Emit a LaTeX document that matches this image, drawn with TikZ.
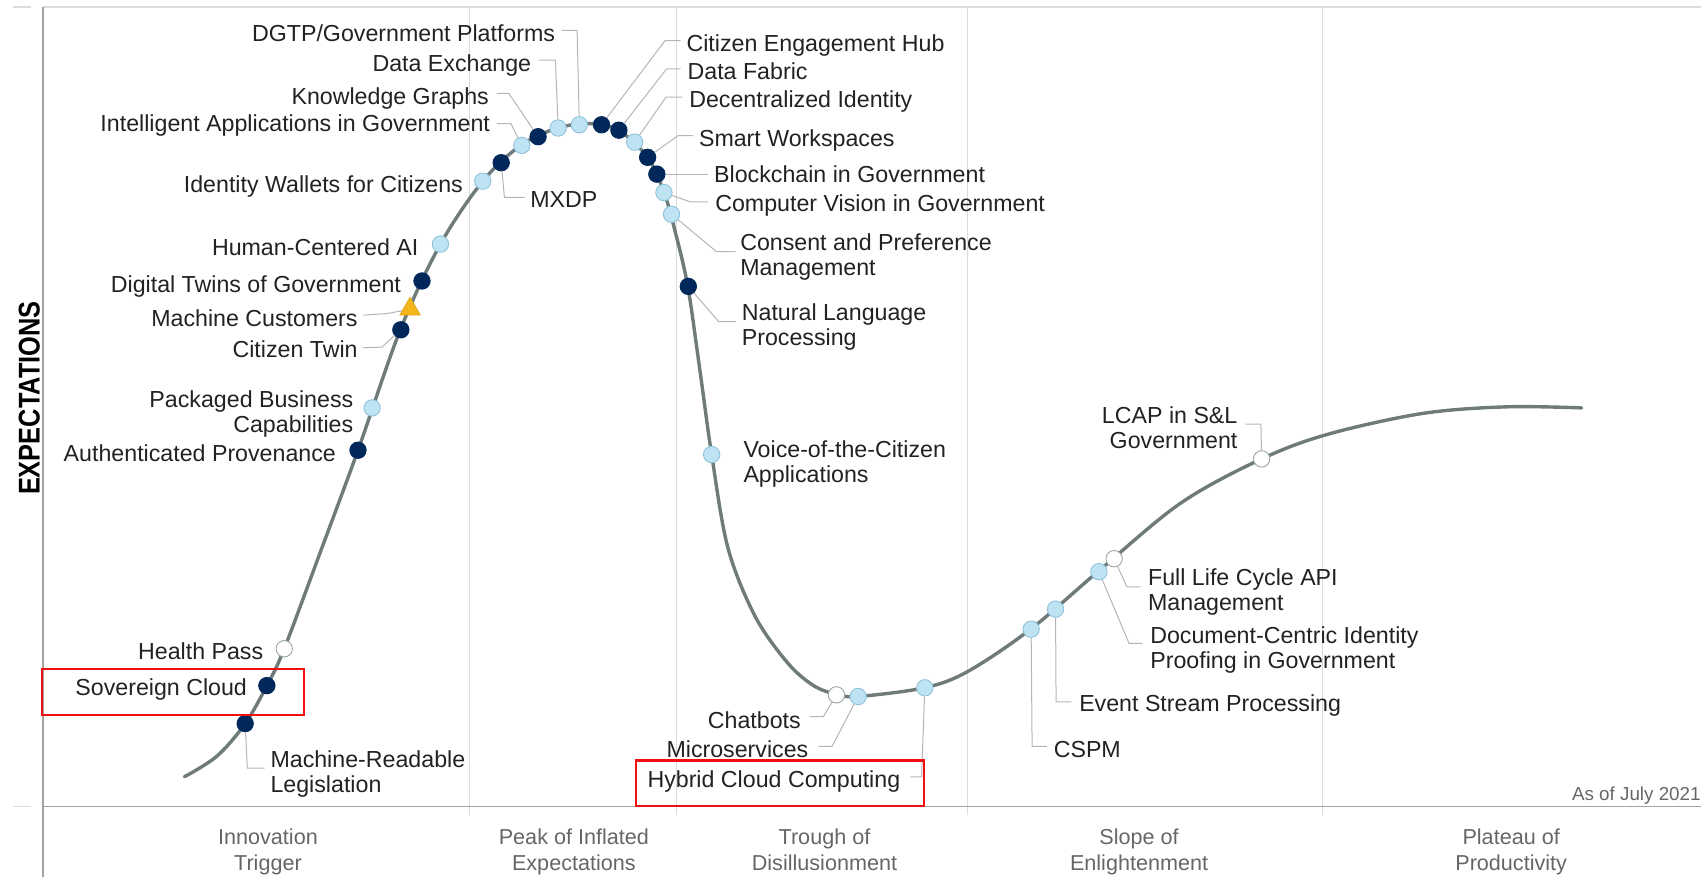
\documentclass[tikz,border=0pt]{standalone}
\usepackage{fontspec}
\setmainfont{Liberation Sans}
\usetikzlibrary{calc,shapes.geometric}
\definecolor{navy}{HTML}{00285A}
\definecolor{lightdot}{HTML}{BEE3F3}
\definecolor{lightedge}{HTML}{8FC3DA}
\definecolor{whiteedge}{HTML}{9AA4A4}
\definecolor{curvec}{HTML}{6E7B7A}
\definecolor{leaderc}{HTML}{B5B5B5}
\definecolor{gridc}{HTML}{DCDCDC}
\definecolor{axisc}{HTML}{A3A3A3}
\definecolor{txt}{HTML}{222222}
\definecolor{phasec}{HTML}{666666}
\definecolor{tri}{HTML}{F4B51A}
\definecolor{redbox}{HTML}{F01010}
\begin{document}
\begin{tikzpicture}[x=0.5424pt,y=-0.5424pt,
  dotbase/.style={circle,minimum size=8.2pt,inner sep=0pt,line width=0.45pt},
  dk/.style={dotbase,fill=navy,draw=navy},
  lt/.style={dotbase,fill=lightdot,draw=lightedge},
  wt/.style={dotbase,fill=white,draw=whiteedge},
  tr/.style={regular polygon,regular polygon sides=3,minimum size=12pt,inner sep=0pt,fill=tri,draw=tri!90!black,line width=0.3pt},
  lbl/.style={font=\fontsize{11.6}{12.5}\selectfont,text=txt,inner sep=0pt},
  lr/.style={lbl,anchor=base east,align=right},
  ll/.style={lbl,anchor=base west,align=left},
  leader/.style={draw=leaderc,line width=0.5pt},
  phase/.style={font=\fontsize{10.8}{13}\selectfont,text=phasec,align=center,anchor=base,inner sep=0pt},
  curve/.style={draw=curvec,line width=1.7pt,line cap=round},
  redrect/.style={draw=redbox,line width=1.1pt}
]
\useasboundingbox (0,0) rectangle (1568,808);
% frame and grid
\foreach \gx in {433,624,892,1219} \draw[gridc,line width=0.5pt] (\gx,6.5) -- (\gx,751);
\draw[gridc,line width=0.8pt] (40,6.5) -- (1568,6.5);
\draw[gridc,line width=0.8pt] (12,6.5) -- (29,6.5);
\draw[gridc,line width=0.8pt] (12,743.5) -- (29,743.5);
\draw[axisc,line width=0.9pt] (40,6.5) -- (40,808);
\draw[axisc,line width=0.9pt] (40,743.5) -- (1568,743.5);
% curve
\draw[curve] plot[smooth,tension=0.55] coordinates {(170,716) (200,697) (226,667) (246,632) (262,598) (296,507) (330,415) (369,304) (406,225) (445,167) (480,134) (514,118) (544,114) (570,120) (597,145) (612,177) (622,212) (634,264) (645,340) (656,419) (671,505) (696,568) (726,611) (750,632) (771,640) (791,642) (852,634) (892,619) (950,580) (1012,527) (1088,464) (1163,423) (1225,400) (1312,381) (1389,375) (1458,376)};
% dots
\node[dk] (d1) at (226,667) {};
\node[dk] (d2) at (246,632) {};
\node[wt] (d3) at (262,598) {};
\node[dk] (d4) at (330,415) {};
\node[lt] (d5) at (343,376) {};
\node[dk] (d6) at (369.5,304) {};
\node[tr] (d7) at (378,285) {};
\node[dk] (d8) at (389,259) {};
\node[lt] (d9) at (406,225) {};
\node[lt] (d10) at (445,167) {};
\node[dk] (d11) at (462,150) {};
\node[lt] (d12) at (481,134) {};
\node[dk] (d13) at (496,126) {};
\node[lt] (d14) at (514.5,118) {};
\node[lt] (d15) at (534,115) {};
\node[dk] (d16) at (554.5,115) {};
\node[dk] (d17) at (570.5,120) {};
\node[lt] (d18) at (585,131) {};
\node[dk] (d19) at (597,145) {};
\node[dk] (d20) at (605.5,160.5) {};
\node[lt] (d21) at (612,177.5) {};
\node[lt] (d22) at (619,197.5) {};
\node[dk] (d23) at (634.5,264) {};
\node[lt] (d24) at (656,419) {};
\node[wt] (d25) at (771,640.5) {};
\node[lt] (d26) at (791,642) {};
\node[lt] (d27) at (852.5,634) {};
\node[lt] (d28) at (950.5,580) {};
\node[lt] (d29) at (973,561.5) {};
\node[lt] (d30) at (1013,527) {};
\node[wt] (d31) at (1027,515) {};
\node[wt] (d32) at (1163,423) {};
% labels (base = baseline of the last line)
\node[ll] (l1) at (249,730.5) {Machine-Readable\\Legislation};
\node[lr] (l2) at (228,641.5) {Sovereign Cloud};
\node[lr] (l3) at (243,607.5) {Health Pass};
\node[lr] (l4) at (310,425.5) {Authenticated Provenance};
\node[lr] (l5) at (326,398.5) {Packaged Business\\Capabilities};
\node[lr] (l6) at (330,329.5) {Citizen Twin};
\node[lr] (l7) at (330,300.5) {Machine Customers};
\node[lr] (l8) at (370,269.5) {Digital Twins of Government};
\node[lr] (l9) at (386,235.5) {Human-Centered AI};
\node[lr] (l10) at (427,177.5) {Identity Wallets for Citizens};
\node[ll] (l11) at (488.5,191.5) {MXDP};
\node[lr] (l12) at (452,121.5) {Intelligent Applications in Government};
\node[lr] (l13) at (451,96) {Knowledge Graphs};
\node[lr] (l14) at (490,65.5) {Data Exchange};
\node[lr] (l15) at (512,38) {DGTP/Government Platforms};
\node[ll] (l16) at (632.5,47.5) {Citizen Engagement Hub};
\node[ll] (l17) at (633.5,73.5) {Data Fabric};
\node[ll] (l18) at (635,99.5) {Decentralized Identity};
\node[ll] (l19) at (644,135) {Smart Workspaces};
\node[ll] (l20) at (658,168.5) {Blockchain in Government};
\node[ll] (l21) at (659,195) {Computer Vision in Government};
\node[ll] (l22) at (682,254) {Consent and Preference\\Management};
\node[ll] (l23) at (683.5,318.5) {Natural Language\\Processing};
\node[ll] (l24) at (685,444.5) {Voice-of-the-Citizen\\Applications};
\node[lr] (l25) at (738.5,671.5) {Chatbots};
\node[lr] (l26) at (745.5,698) {Microservices};
\node[ll] (l27) at (596.5,726) {Hybrid Cloud Computing};
\node[ll] (l28) at (971,698) {CSPM};
\node[ll] (l29) at (994.5,656) {Event Stream Processing};
\node[ll] (l30) at (1060,616) {Document-Centric Identity\\Proofing in Government};
\node[ll] (l31) at (1058,563) {Full Life Cycle API\\Management};
\node[lr] (l32) at (1141,413) {LCAP in S\&L\\Government};
% leaders
\draw[leader] (d1) -- (228,708) -- ($(l1.base west)+(-5,-22.5)$);
\draw[leader] ($(l6.base east)+(5,-9)$) -- (352,320) -- (d6);
\draw[leader] ($(l7.base east)+(5,-10)$) -- (357,289) -- (d7);
\draw[leader] (d11) -- (465,182) -- ($(l11.base west)+(-5,-9.5)$);
\draw[leader] ($(l12.base east)+(6,-7.5)$) -- (471,114) -- (d12);
\draw[leader] ($(l13.base east)+(7,-10)$) -- (469,86) -- (d13);
\draw[leader] ($(l14.base east)+(7,-10)$) -- (512,55.5) -- (d14);
\draw[leader] ($(l15.base east)+(6,-10)$) -- (532,28) -- (d15);
\draw[leader] ($(l16.base west)+(-5,-10)$) -- (613,37.5) -- (d16);
\draw[leader] ($(l17.base west)+(-6,-10)$) -- (614.5,63.5) -- (d17);
\draw[leader] ($(l18.base west)+(-6,-10)$) -- (614,89.5) -- (d18);
\draw[leader] ($(l19.base west)+(-5,-10)$) -- (625,125) -- (d19);
\draw[leader] ($(l20.base west)+(-5,-8)$) -- (d20);
\draw[leader] ($(l21.base west)+(-6,-9)$) -- (636,186) -- (d21);
\draw[leader] ($(l22.base west)+(-4,-22)$) -- (660.5,232) -- (d22);
\draw[leader] ($(l23.base west)+(-5,-22)$) -- (662.5,296.5) -- (d23);
\draw[leader] ($(l25.base east)+(8,-11)$) -- (759,660.5) -- (d25);
\draw[leader] ($(l26.base east)+(9,-10)$) -- (767,688) -- (d26);
\draw[leader] (d27) -- (849.5,716) -- ($(l27.base east)+(9,-10)$);
\draw[leader] (d28) -- (951.4,688) -- ($(l28.base west)+(-6,-10)$);
\draw[leader] (d29) -- (973.5,647) -- ($(l29.base west)+(-7,-9)$);
\draw[leader] (d30) -- (1040.7,593) -- ($(l30.base west)+(-7,-23)$);
\draw[leader] (d31) -- (1038.8,541) -- ($(l31.base west)+(-6.5,-22)$);
\draw[leader] ($(l32.base east)+(7,-22)$) -- (1162.3,391) -- (d32);
% red highlight boxes
\draw[redrect] (39,617) rectangle (280,659);
\draw[redrect] (586,701) rectangle (851.5,743);
% phases
\node[phase] (p1) at (247,802) {Innovation\\Trigger};
\node[phase] (p2) at (529,802) {Peak of Inflated\\Expectations};
\node[phase] (p3) at (760,802) {Trough of\\Disillusionment};
\node[phase] (p4) at (1050,802) {Slope of\\Enlightenment};
\node[phase] (p5) at (1393,802) {Plateau of\\Productivity};
\node[font=\fontsize{9.4}{10}\selectfont,text=phasec,anchor=base east,inner sep=0pt] (asof) at (1568,738) {As of July 2021};
\node[rotate=90,inner sep=0pt,text=black] (ylab) at (27,367) {\scalebox{0.846}[1]{\fontsize{15}{15}\selectfont\bfseries EXPECTATIONS}};
\end{tikzpicture}
\end{document}
